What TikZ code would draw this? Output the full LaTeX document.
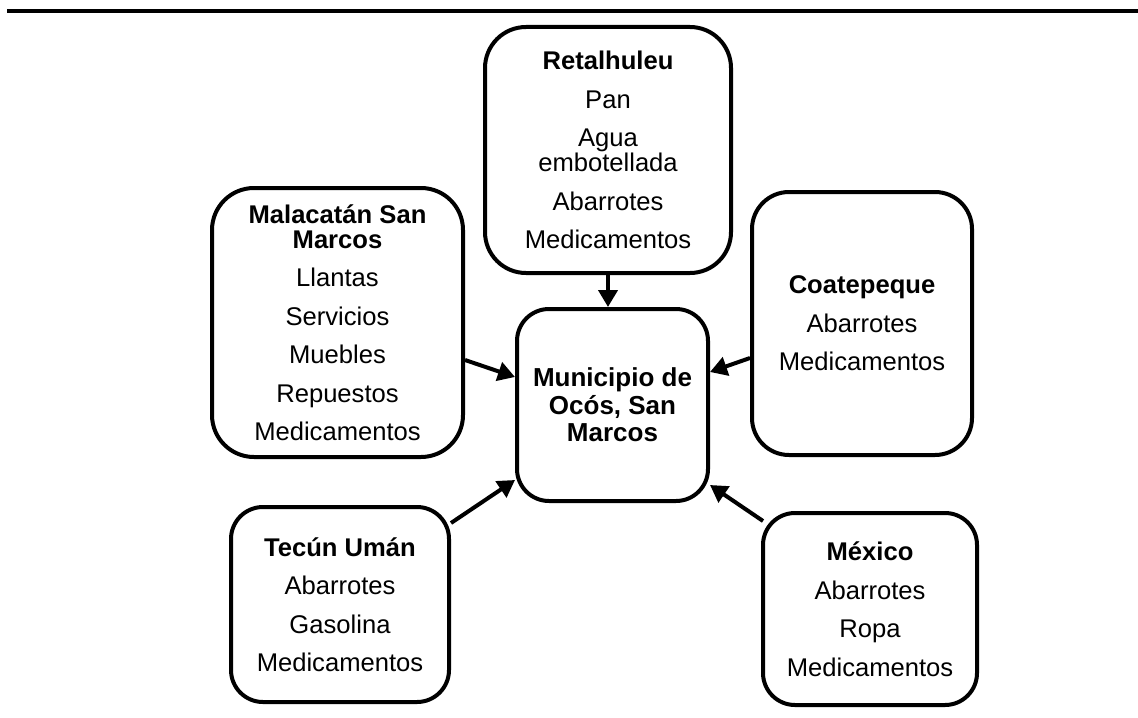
\documentclass[tikz,border=0pt]{standalone}
\usepackage{fontspec}
\setmainfont{Liberation Sans}
\usetikzlibrary{arrows.meta,calc}
\tikzset{
  lugar/.style={draw, line width=2pt, align=center, inner sep=0pt,
    font=\fontsize{12.8}{12.5}\selectfont},
  flecha/.style={-{Triangle[length=8.5pt,width=9.5pt]}, line width=2pt},
}
\begin{document}
\begin{tikzpicture}[x=0.5pt,y=-0.5pt]
    \useasboundingbox (0,0) rectangle (1138,717);
    \draw[line width=2pt] (7,11) -- (1138,11);
    \node[lugar, minimum width=123pt, minimum height=123pt, rounded corners=20.5pt] (retal) at (608,150)
        {\textbf{Retalhuleu}\\[6.75pt] Pan\\[6.75pt] Agua\\ embotellada\\[6.75pt] Abarrotes\\[6.75pt] Medicamentos};
    \node[lugar, minimum width=125.5pt, minimum height=134.5pt, rounded corners=21pt] (malac) at (337.5,322.5)
        {\textbf{Malacatán San}\\ \textbf{Marcos}\\[6.75pt] Llantas\\[6.75pt] Servicios\\[6.75pt] Muebles\\[6.75pt] Repuestos\\[6.75pt] Medicamentos};
    \node[lugar, minimum width=110pt, minimum height=131.5pt, rounded corners=18.5pt] (coate) at (862,323.5)
        {\textbf{Coatepeque}\\[6.75pt] Abarrotes\\[6.75pt] Medicamentos};
    \node[lugar, minimum width=95.5pt, minimum height=96pt, rounded corners=16pt,
        font=\bfseries\fontsize{13}{13.75}\selectfont] (muni) at (612.5,405)
        {Municipio de\\ Ocós, San\\ Marcos};
    \node[lugar, minimum width=109pt, minimum height=97.5pt, rounded corners=16pt] (tecun) at (340,604.5)
        {\textbf{Tecún Umán}\\[6.75pt] Abarrotes\\[6.75pt] Gasolina\\[6.75pt] Medicamentos};
    \node[lugar, minimum width=107pt, minimum height=96pt, rounded corners=16pt] (mexico) at (870,609)
        {\textbf{México}\\[6.75pt] Abarrotes\\[6.75pt] Ropa\\[6.75pt] Medicamentos};
    \draw[flecha] (retal.south) -- (retal.south |- muni.north);
    \draw[flecha] ($(malac.east)+(0,37.5)$) -- ($(muni.west)+(0,-28)$);
    \draw[flecha] ($(coate.west)+(0,34.5)$) -- ($(muni.east)+(0,-33)$);
    \draw[flecha] ($(tecun.north east)+(0,18)$) -- ($(muni.south west)+(0,-23)$);
    \draw[flecha] ($(mexico.north west)+(2,10)$) -- ($(muni.south east)+(0,-18)$);
\end{tikzpicture}
\end{document}
